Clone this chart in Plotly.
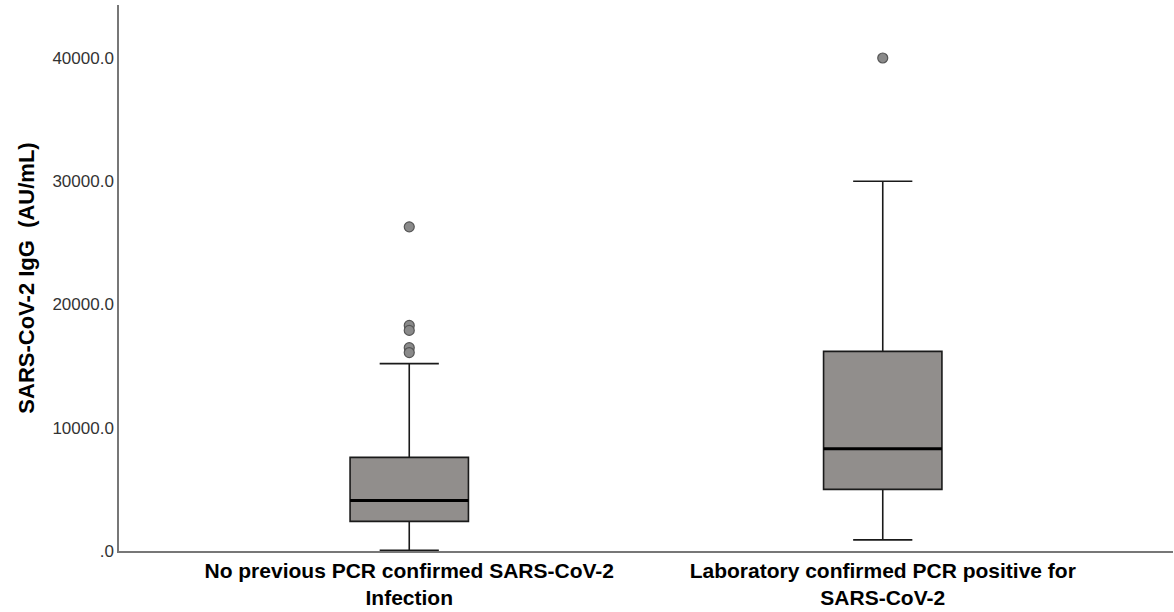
import plotly.graph_objects as go

categories = ["<b>No previous PCR confirmed SARS-CoV-2</b><br><b>Infection</b>",
              "<b>Laboratory confirmed PCR positive for</b><br><b>SARS-CoV-2</b>"]
lower_whisker = [50, 900]
q1 = [2400, 5000]
median = [4100, 8300]
q3 = [7600, 16200]
upper_whisker = [15200, 30000]
outliers = [[26300, 18300, 17900, 16500, 16100], [40000]]
tick_vals = [0, 10000, 20000, 30000, 40000]
tick_text = [".0", "10000.0", "20000.0", "30000.0", "40000.0"]

BOX_W = 0.25
fig = go.Figure()
for i, cat in enumerate(categories):
    fig.add_trace(go.Box(
        x=[i], q1=[q1[i]], median=[median[i]], q3=[q3[i]],
        lowerfence=[lower_whisker[i]], upperfence=[upper_whisker[i]],
        width=BOX_W, whiskerwidth=0.5, boxpoints=False,
        fillcolor="#918e8c", line=dict(color="#1a1a1a", width=1.6),
        showlegend=False, hoverinfo="skip"))
    fig.add_trace(go.Scatter(
        x=[i - BOX_W / 2, i + BOX_W / 2], y=[median[i], median[i]],
        mode="lines", line=dict(color="black", width=3),
        showlegend=False, hoverinfo="skip"))
    fig.add_trace(go.Scatter(
        x=[i] * len(outliers[i]), y=outliers[i], mode="markers",
        marker=dict(size=10, color="#8a8a8a", line=dict(color="#555555", width=1.2)),
        showlegend=False))

fig.update_layout(
    width=1174, height=612,
    margin=dict(l=119, r=1, t=5, b=61),
    paper_bgcolor="white", plot_bgcolor="white",
    font=dict(family="Arial, Liberation Sans, sans-serif", color="#222222"),
    xaxis=dict(range=[-0.613, 1.613], tickvals=[0, 1], ticktext=categories,
               showline=True, linecolor="#777777", linewidth=1.5,
               showgrid=False, zeroline=False, ticks="",
               tickfont=dict(size=21, color="black")),
    yaxis=dict(range=[0, 44300], tickvals=tick_vals, ticktext=tick_text,
               showline=True, linecolor="#777777", linewidth=1.5,
               showgrid=False, zeroline=False, ticks="",
               tickfont=dict(size=17, color="#333333"),
               title=dict(text="<b>SARS-CoV-2 IgG  (AU/mL)</b>",
                          font=dict(size=22, color="black"), standoff=12)),
)
fig.write_html("out.html", post_script="document.body.style.margin='0';",
               config={"displayModeBar": False})
